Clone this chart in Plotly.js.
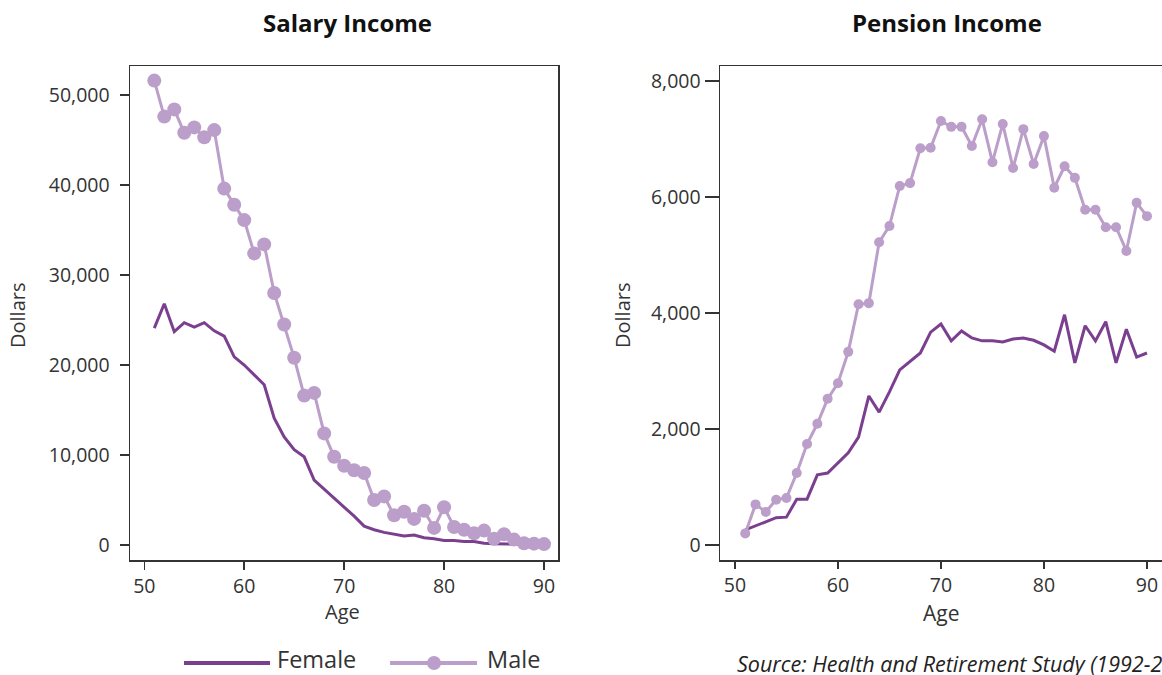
<!DOCTYPE html>
<html>
<head>
<meta charset="utf-8">
<script src="https://cdn.plot.ly/plotly-3.0.1.min.js"></script>
<style>html,body{margin:0;padding:0;background:#fff;}#chart{width:1162px;height:675px;}</style>
</head>
<body>
<div id="chart"></div>
<script>
const ages = [51,52,53,54,55,56,57,58,59,60,61,62,63,64,65,66,67,68,69,70,71,72,73,74,75,76,77,78,79,80,81,82,83,84,85,86,87,88,89,90];

const salaryMale = [51600,47600,48400,45800,46400,45300,46100,39600,37800,36100,32400,33400,28000,24500,20800,16600,16900,12400,9800,8800,8300,8000,5000,5400,3300,3700,2900,3800,1900,4200,2000,1700,1300,1600,700,1200,600,200,150,100];
const salaryFemale = [24100,26800,23700,24700,24200,24700,23800,23200,20900,20000,18900,17800,14100,12000,10600,9800,7200,6200,5200,4300,3200,2100,1700,1400,1200,1000,1100,800,700,500,500,400,400,200,150,100,80,60,50,40];

const pensionMale = [200,700,570,780,810,1240,1740,2090,2520,2790,3330,4150,4170,5220,5500,6190,6240,6840,6850,7310,7210,7210,6880,7340,6600,7260,6500,7170,6570,7050,6160,6530,6330,5780,5780,5480,5480,5070,5900,5670];
const pensionFemale = [260,330,400,470,480,790,790,1210,1240,1410,1590,1860,2570,2290,2640,3020,3160,3310,3670,3810,3520,3690,3570,3520,3520,3500,3550,3570,3530,3450,3340,3970,3140,3780,3520,3850,3140,3720,3240,3310];

const panelTitles = ["Salary Income", "Pension Income"];
const seriesNames = ["Female", "Male"];
const sourceText = "Source: Health and Retirement Study (1992-2016)";

const femaleColor = "#7b3f8f";
const maleColor = "#bb9ec9";
const axisColor = "#333333";
const FONT = "'Open Sans', 'Noto Sans', sans-serif";

const traces = [
  {x: ages, y: salaryFemale, type: "scatter", mode: "lines", line: {color: femaleColor, width: 3}, xaxis: "x", yaxis: "y", showlegend: false, name: seriesNames[0]},
  {x: ages, y: salaryMale, type: "scatter", mode: "lines+markers", line: {color: maleColor, width: 3}, marker: {color: maleColor, size: 14}, xaxis: "x", yaxis: "y", showlegend: false, name: seriesNames[1]},
  {x: ages, y: pensionFemale, type: "scatter", mode: "lines", line: {color: femaleColor, width: 3}, xaxis: "x2", yaxis: "y2", showlegend: false, name: seriesNames[0]},
  {x: ages, y: pensionMale, type: "scatter", mode: "lines+markers", line: {color: maleColor, width: 3}, marker: {color: maleColor, size: 10}, xaxis: "x2", yaxis: "y2", showlegend: false, name: seriesNames[1]}
];

const baseAxis = {
  showline: true, mirror: true, linecolor: axisColor, linewidth: 1.5,
  ticks: "outside", ticklen: 8, tickcolor: axisColor, tickwidth: 1.5,
  showgrid: false, zeroline: false,
  tickfont: {family: FONT, size: 19.5, color: axisColor},
  fixedrange: true
};

const layout = {
  width: 1162, height: 675,
  margin: {l: 0, r: 0, t: 0, b: 0},
  paper_bgcolor: "#ffffff", plot_bgcolor: "#ffffff",
  showlegend: false,
  font: {family: FONT, color: axisColor},
  xaxis: Object.assign({}, baseAxis, {domain: [130/1162, 558/1162], range: [48.57, 91.4], tickvals: [50,60,70,80,90], anchor: "y"}),
  yaxis: Object.assign({}, baseAxis, {domain: [115/675, 609/675], range: [-1667, 53222], tickvals: [0,10000,20000,30000,40000,50000], tickformat: ",d", anchor: "x", ticklen: 9, ticklabelstandoff: 6}),
  xaxis2: Object.assign({}, baseAxis, {domain: [720/1162, 1.0], range: [48.55, 91.46], tickvals: [50,60,70,80,90], anchor: "y2", ticklen: 7}),
  yaxis2: Object.assign({}, baseAxis, {domain: [115/675, 609/675], range: [-259, 8259], tickvals: [0,2000,4000,6000,8000], tickformat: ",d", anchor: "x2", ticklen: 14}),
  annotations: [
    {text: "<b>" + panelTitles[0] + "</b>", xref: "paper", yref: "paper", x: 347/1162, y: 1 - 23/675, xanchor: "center", yanchor: "middle", showarrow: false, font: {family: FONT, size: 24, color: "#111"}},
    {text: "<b>" + panelTitles[1] + "</b>", xref: "paper", yref: "paper", x: 947/1162, y: 1 - 23/675, xanchor: "center", yanchor: "middle", showarrow: false, font: {family: FONT, size: 24, color: "#111"}},
    {text: "Age", xref: "paper", yref: "paper", x: 342/1162, y: 1 - 611/675, xanchor: "center", yanchor: "middle", showarrow: false, font: {family: FONT, size: 20, color: axisColor}},
    {text: "Age", xref: "paper", yref: "paper", x: 941/1162, y: 1 - 613/675, xanchor: "center", yanchor: "middle", showarrow: false, font: {family: FONT, size: 21, color: axisColor}},
    {text: "Dollars", xref: "paper", yref: "paper", x: 17/1162, y: 1 - 316/675, xanchor: "center", yanchor: "middle", textangle: -90, showarrow: false, font: {family: FONT, size: 20, color: axisColor}},
    {text: "Dollars", xref: "paper", yref: "paper", x: 622/1162, y: 1 - 316/675, xanchor: "center", yanchor: "middle", textangle: -90, showarrow: false, font: {family: FONT, size: 20, color: axisColor}},
    {text: seriesNames[0], xref: "paper", yref: "paper", x: 275/1162, y: 1 - 659/675, xanchor: "left", yanchor: "middle", showarrow: false, font: {family: FONT, size: 23.5, color: axisColor}},
    {text: seriesNames[1], xref: "paper", yref: "paper", x: 485/1162, y: 1 - 659/675, xanchor: "left", yanchor: "middle", showarrow: false, font: {family: FONT, size: 23.5, color: axisColor}},
    {text: "<i>" + sourceText + "</i>", xref: "paper", yref: "paper", x: 735/1162, y: 1 - 663/675, xanchor: "left", yanchor: "middle", showarrow: false, font: {family: FONT, size: 21.5, color: "#222"}}
  ],
  shapes: [
    {type: "line", xref: "paper", yref: "paper", x0: 184/1162, x1: 270/1162, y0: 1 - 663/675, y1: 1 - 663/675, line: {color: femaleColor, width: 4}},
    {type: "line", xref: "paper", yref: "paper", x0: 390/1162, x1: 477/1162, y0: 1 - 663/675, y1: 1 - 663/675, line: {color: maleColor, width: 4}},
    {type: "circle", xref: "paper", yref: "paper", x0: 427/1162, x1: 441/1162, y0: 1 - 670/675, y1: 1 - 656/675, fillcolor: maleColor, line: {width: 0}}
  ]
};

Plotly.newPlot("chart", traces, layout, {displayModeBar: false, staticPlot: true});
</script>
</body>
</html>
